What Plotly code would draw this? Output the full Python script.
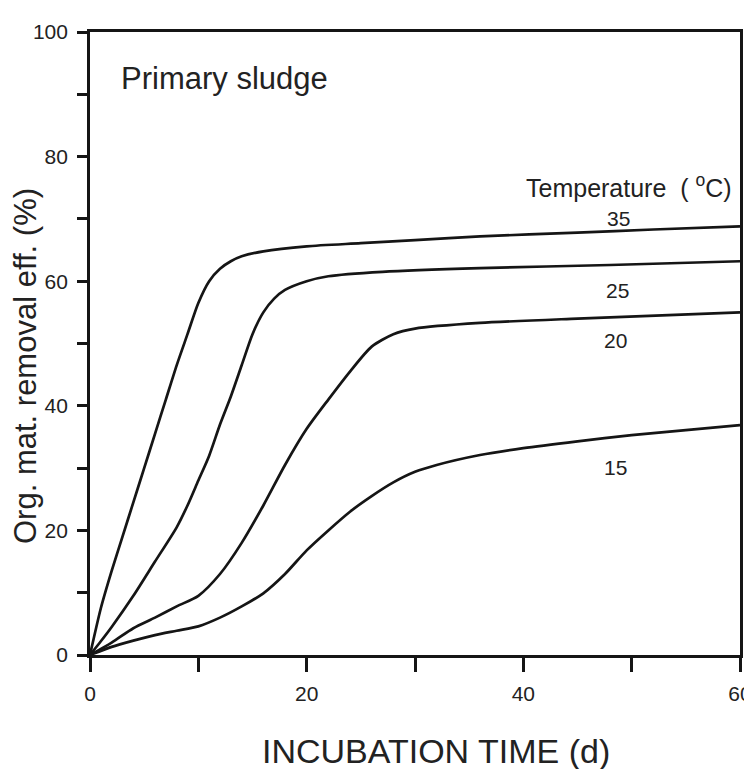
import plotly.graph_objects as go

# ---- data ----
t_35 = [0, 1, 2, 3, 4, 5, 6, 7, 8, 9, 10, 11, 12, 13, 14, 16, 20, 25, 30, 36, 45, 52, 60]
y_35 = [0, 7.5, 13.5, 19, 24.5, 30, 35.5, 41, 46.5, 51.5, 56.5, 60, 62, 63.2, 64, 64.8, 65.6, 66.1, 66.6, 67.2, 67.8, 68.3, 68.8]

t_25 = [0, 1, 2, 4, 6, 8, 9, 10, 11, 12, 13, 14, 15, 16, 17, 18, 20, 22, 27, 36, 48, 60]
y_25 = [0, 2.2, 4.5, 9.5, 15, 20.5, 24, 28, 32, 37, 41.5, 46.5, 51.5, 55, 57.2, 58.6, 60, 60.8, 61.5, 62.1, 62.6, 63.2]

t_20 = [0, 2, 4, 6, 8, 10, 12, 14, 16, 18, 20, 22, 24, 26, 28, 30, 36, 45, 60]
y_20 = [0, 2, 4.3, 6, 7.8, 9.5, 13, 18, 24, 30.5, 36.3, 41, 45.5, 49.5, 51.5, 52.4, 53.3, 54, 55]

t_15 = [0, 2, 4, 6, 8, 10, 12, 14, 16, 18, 20, 22, 24, 26, 28, 30, 32, 36, 40, 45, 50, 55, 60]
y_15 = [0, 1.3, 2.3, 3.2, 3.9, 4.6, 6, 7.8, 9.9, 13, 16.8, 20, 23, 25.5, 27.7, 29.4, 30.5, 32.1, 33.2, 34.3, 35.3, 36.1, 36.9]

series_names = ["35", "25", "20", "15"]
x_major = [0, 20, 40, 60]
x_minor = [10, 30, 50]
y_major = [0, 20, 40, 60, 80, 100]
y_minor = [10, 30, 50, 70, 90]

FONT = "Liberation Sans, Arial, sans-serif"
INK = "#151515"
TXT = "#222"

fig = go.Figure()
for name, t, y in [("35", t_35, y_35), ("25", t_25, y_25), ("20", t_20, y_20), ("15", t_15, y_15)]:
    fig.add_trace(go.Scatter(x=t, y=y, mode="lines", name=name,
                             line=dict(color=INK, width=2.7, shape="spline", smoothing=0.7),
                             showlegend=False, hoverinfo="skip"))

# page has an 8px body margin; work in page pixels and convert
OFF = 8
W, H = 752 - OFF, 769 - OFF
L, R, T, B = 90 - OFF, 740 - OFF, 32 - OFF, 655 - OFF
pw, ph = R - L, B - T

def px(x):
    return (x - OFF - L) / pw

def py(y):
    return (B - (y - OFF)) / ph

annots = [
    dict(text="Primary sludge", x=px(119), y=py(78), xanchor="left", size=31),
    dict(text="Temperature  ( <sup>o</sup>C)", x=px(524), y=py(186), xanchor="left", size=25),
    dict(text=series_names[0], x=px(618), y=py(218), xanchor="center", size=21),
    dict(text=series_names[1], x=px(617), y=py(290), xanchor="center", size=21),
    dict(text=series_names[2], x=px(615), y=py(340), xanchor="center", size=21),
    dict(text=series_names[3], x=px(615), y=py(467), xanchor="center", size=21),
]
for a in annots:
    fig.add_annotation(text=a["text"], x=a["x"], y=a["y"], xref="paper", yref="paper",
                       xanchor=a["xanchor"], yanchor="middle", showarrow=False,
                       font=dict(family=FONT, size=a["size"], color=TXT))

fig.add_annotation(text="INCUBATION TIME (d)", x=px(436), y=py(751), xref="paper", yref="paper",
                   xanchor="center", yanchor="middle", showarrow=False,
                   font=dict(family=FONT, size=34, color=TXT))
fig.add_annotation(text="Org. mat. removal eff. (%)", x=px(25), y=py(366), xref="paper", yref="paper",
                   xanchor="center", yanchor="middle", showarrow=False, textangle=-90,
                   font=dict(family=FONT, size=31, color=TXT))

fig.update_xaxes(range=[0, 60], tickmode="array", tickvals=x_major,
                 ticks="outside", ticklen=14, tickwidth=2.7, tickcolor=INK,
                 minor=dict(tickmode="array", tickvals=x_minor, ticks="outside",
                            ticklen=14, tickwidth=2.7, tickcolor=INK, showgrid=False),
                 showline=True, linewidth=2.7, linecolor=INK, mirror=True,
                 showgrid=False, zeroline=False, ticklabelstandoff=4,
                 ticklabeloverflow="allow", automargin=False,
                 tickfont=dict(family=FONT, size=21, color=TXT))
fig.update_yaxes(range=[0, 100], tickmode="array", tickvals=y_major,
                 ticks="outside", ticklen=10, tickwidth=2.7, tickcolor=INK,
                 minor=dict(tickmode="array", tickvals=y_minor, ticks="outside",
                            ticklen=10, tickwidth=2.7, tickcolor=INK, showgrid=False),
                 showline=True, linewidth=2.7, linecolor=INK, mirror=True,
                 showgrid=False, zeroline=False, ticklabelstandoff=5,
                 ticklabeloverflow="allow", automargin=False,
                 tickfont=dict(family=FONT, size=21, color=TXT))

fig.update_layout(width=W, height=H, margin=dict(l=L, r=W - R, t=T, b=H - B),
                  paper_bgcolor="white", plot_bgcolor="white")

fig.write_html("out.html")
